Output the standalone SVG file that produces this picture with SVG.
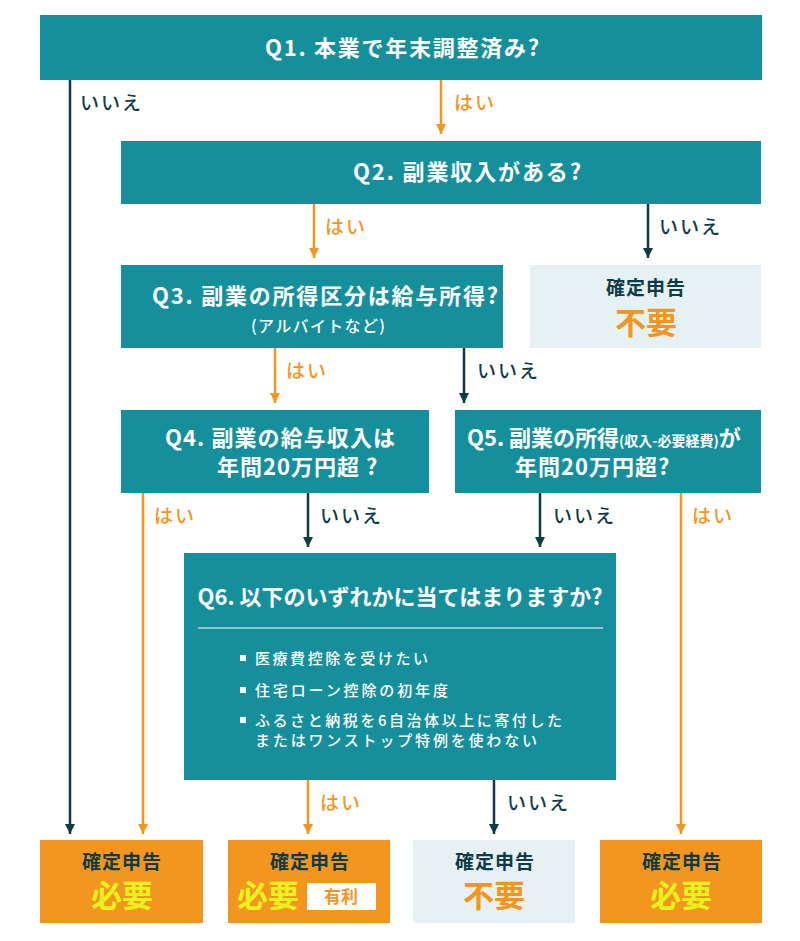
<svg xmlns="http://www.w3.org/2000/svg" width="800" height="941" viewBox="0 0 800 941">
<style>
.q{fill:#168f9d}
.lt{fill:#e6f1f3}
.og{fill:#f3961f}
text{font-family:"Noto Sans CJK JP","Noto Sans",sans-serif;font-weight:bold}
.qt{fill:#fff;font-size:22px;text-anchor:middle}
.qs{fill:#fff;font-size:15px;font-weight:500}
.yes{fill:#f3961f;font-size:19px;font-weight:500;letter-spacing:2px}
.no{fill:#0f3a48;font-size:19px;font-weight:500;letter-spacing:2px}
.k{fill:#0f3a48;font-size:19px;text-anchor:middle;letter-spacing:1px}
.big{font-size:31px;text-anchor:middle}
.ly{stroke:#f3961f;stroke-width:2.5;fill:none}
.ln{stroke:#0f3a48;stroke-width:2.5;fill:none}
</style>
<defs>
<marker id="an" markerUnits="userSpaceOnUse" markerWidth="10" markerHeight="10" viewBox="0 0 10 10" refX="5" refY="10" orient="0"><path d="M0,0 L10,0 L5,10 z" fill="#0f3a48"/></marker>
<marker id="ay" markerUnits="userSpaceOnUse" markerWidth="10" markerHeight="10" viewBox="0 0 10 10" refX="5" refY="10" orient="0"><path d="M0,0 L10,0 L5,10 z" fill="#f3961f"/></marker>
</defs>

<g id="connectors">
<line class="ln" x1="70" y1="80" x2="70" y2="834" marker-end="url(#an)"/>
<line class="ly" x1="441" y1="80" x2="441" y2="134" marker-end="url(#ay)"/>
<line class="ly" x1="314" y1="204" x2="314" y2="258" marker-end="url(#ay)"/>
<line class="ln" x1="648" y1="204" x2="648" y2="258" marker-end="url(#an)"/>
<line class="ly" x1="275" y1="348" x2="275" y2="403" marker-end="url(#ay)"/>
<line class="ln" x1="464" y1="348" x2="464" y2="403" marker-end="url(#an)"/>
<line class="ly" x1="143" y1="493" x2="143" y2="834" marker-end="url(#ay)"/>
<line class="ln" x1="308" y1="493" x2="308" y2="547" marker-end="url(#an)"/>
<line class="ln" x1="540" y1="493" x2="540" y2="547" marker-end="url(#an)"/>
<line class="ly" x1="681" y1="493" x2="681" y2="834" marker-end="url(#ay)"/>
<line class="ly" x1="308" y1="780" x2="308" y2="834" marker-end="url(#ay)"/>
<line class="ln" x1="494" y1="780" x2="494" y2="834" marker-end="url(#an)"/>
<text class="no" x="80" y="110">いいえ</text>
<text class="yes" x="454" y="110">はい</text>
<text class="yes" x="325" y="234">はい</text>
<text class="no" x="659" y="234">いいえ</text>
<text class="yes" x="286" y="378">はい</text>
<text class="no" x="477" y="378">いいえ</text>
<text class="yes" x="154" y="523">はい</text>
<text class="no" x="320" y="523">いいえ</text>
<text class="no" x="553" y="523">いいえ</text>
<text class="yes" x="692" y="523">はい</text>
<text class="yes" x="320" y="810">はい</text>
<text class="no" x="507" y="810">いいえ</text>
</g>

<g id="q1">
<rect class="q" x="40" y="15" width="722" height="65"/>
<text class="qt" x="402" y="56" textLength="274" lengthAdjust="spacing">Q1. 本業で年末調整済み?</text>
</g>
<g id="q2">
<rect class="q" x="121" y="141" width="640" height="63"/>
<text class="qt" x="467" y="180" textLength="228" lengthAdjust="spacing">Q2. 副業収入がある?</text>
</g>
<g id="q3">
<rect class="q" x="121" y="265" width="382" height="83"/>
<text class="qt" x="325" y="304" textLength="346" lengthAdjust="spacing">Q3. 副業の所得区分は給与所得?</text>
<text class="qt" x="318" y="332" style="font-size:16px;font-weight:500" textLength="134" lengthAdjust="spacing">(アルバイトなど)</text>
</g>
<g id="r1">
<rect class="lt" x="530" y="265" width="231" height="83"/>
<text class="k" x="646" y="295">確定申告</text>
<text class="big" x="646" y="334" style="fill:#f3961f">不要</text>
</g>
<g id="q4">
<rect class="q" x="121" y="410" width="308" height="83"/>
<text class="qt" x="165" y="446" style="text-anchor:start" textLength="230" lengthAdjust="spacing">Q4. 副業の給与収入は</text>
<text class="qt" x="217" y="475" style="text-anchor:start;letter-spacing:1px">年間20万円超 ?</text>
</g>
<g id="q5">
<rect class="q" x="455" y="410" width="306" height="83"/>
<text class="qt" x="467" y="446" style="text-anchor:start">Q5. 副業の所得<tspan style="font-size:14px">(収入-必要経費)</tspan>が</text>
<text class="qt" x="515" y="475" style="text-anchor:start;letter-spacing:1px">年間20万円超?</text>
</g>
<g id="q6">
<rect class="q" x="184" y="553" width="432" height="227"/>
<text class="qt" x="400" y="605" textLength="405" lengthAdjust="spacing">Q6. 以下のいずれかに当てはまりますか?</text>
<line x1="198" y1="628" x2="603" y2="628" stroke="#fff" stroke-width="1.2"/>
<rect x="240" y="655" width="6" height="6" fill="#fff"/>
<rect x="240" y="687" width="6" height="6" fill="#fff"/>
<rect x="240" y="717" width="6" height="6" fill="#fff"/>
<text class="qs" x="255" y="664" textLength="173" lengthAdjust="spacing">医療費控除を受けたい</text>
<text class="qs" x="255" y="696" textLength="193" lengthAdjust="spacing">住宅ローン控除の初年度</text>
<text class="qs" x="255" y="726" textLength="307" lengthAdjust="spacing">ふるさと納税を6自治体以上に寄付した</text>
<text class="qs" x="255" y="746" textLength="282" lengthAdjust="spacing">またはワンストップ特例を使わない</text>
</g>
<g id="r2">
<rect class="og" x="40" y="840" width="163" height="83"/>
<text class="k" x="122" y="869">確定申告</text>
<text class="big" x="122" y="907" style="fill:#e9f21c">必要</text>
</g>
<g id="r3">
<rect class="og" x="228" y="840" width="162" height="83"/>
<text class="k" x="310" y="869">確定申告</text>
<text class="big" x="268" y="907" style="fill:#e9f21c">必要</text>
<rect x="307" y="883" width="69" height="27" fill="#fff"/>
<text x="341" y="903" style="fill:#f3961f;font-size:17px;text-anchor:middle">有利</text>
</g>
<g id="r4">
<rect class="lt" x="413" y="840" width="162" height="83"/>
<text class="k" x="495" y="869">確定申告</text>
<text class="big" x="494" y="907" style="fill:#f3961f">不要</text>
</g>
<g id="r5">
<rect class="og" x="600" y="840" width="162" height="83"/>
<text class="k" x="682" y="869">確定申告</text>
<text class="big" x="681" y="907" style="fill:#e9f21c">必要</text>
</g>
</svg>
